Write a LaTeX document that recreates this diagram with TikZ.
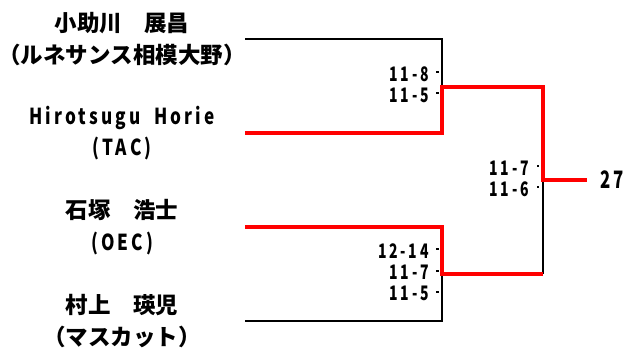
\documentclass[tikz,border=0pt]{standalone}
\usepackage{fontspec}
\setmainfont{Noto Sans CJK JP}
\newfontfamily\latinfont[FakeStretch=0.78, LetterSpace=14, WordSpace=2]{Noto Sans CJK JP}
\newfontfamily\scorefont[FakeStretch=0.7, LetterSpace=14]{Noto Sans CJK JP}
\usetikzlibrary{positioning}
\definecolor{winred}{RGB}{255,0,0}

\begin{document}
\begin{tikzpicture}[
    x=1pt, y=-1pt,
    player/.style={align=center, inner sep=0pt, font=\fontsize{22.5}{32}\selectfont\bfseries},
    latin/.style={font=\latinfont\bfseries\fontsize{22}{31}\selectfont},
    score/.style={anchor=east, inner sep=0pt, font=\scorefont\bfseries\fontsize{20}{20}\selectfont},
    tick/.style={fill=black, minimum size=2.2pt, inner sep=0pt},
    lose/.style={black, line width=1.4pt},
    win/.style={winred, line width=4pt}
]
\useasboundingbox (0,0) rectangle (627,349);

% Players
\node[player] (pa) at (122,39) {小助川　展昌\\（ルネサンス相模大野）};
\node[player, latin] (pb) at (122,133) {Hirotsugu Horie\\(TAC)};
\node[player] (pc) at (122,227) {石塚　浩士\\{\latinfont\fontsize{22}{31}\selectfont (OEC)}};
\node[player] (pd) at (122,321) {村上　瑛児\\（マスカット）};

% Line ends
\coordinate (a0) at (245,39);
\coordinate (b0) at (245,133);
\coordinate (c0) at (245,227);
\coordinate (d0) at (245,321);
\coordinate (sf1) at (442,87);
\coordinate (sf2) at (442,274);
\coordinate (fin) at (543,180);
\coordinate (champ) at (587,180);

% Losing paths
\draw[lose] (a0) -| (sf1);
\draw[lose] (d0) -| (sf2);
\draw[lose] (sf2 -| fin) -- (fin);

% Winning paths
\draw[win] (b0) -| (sf1) -| (fin) -- (champ);
\draw[win] (c0) -| (sf2) -- (sf2 -| fin);

% Result
\node[anchor=west, inner sep=0pt, font=\scorefont\bfseries\fontsize{24}{24}\selectfont] (total) at (600,180) {27};

% Game scores, semifinal 1
\node[score] (s11) at (429,74) {11-8};
\node[score] (s12) at (429,95) {11-5};
\node[tick] at (437.5,72) {};
\node[tick] at (437.5,93) {};

% Game scores, final
\node[score] (f1) at (529,168) {11-7};
\node[score] (f2) at (529,189) {11-6};
\node[tick] at (538,166) {};
\node[tick] at (538,187) {};

% Game scores, semifinal 2
\node[score] (s21) at (429,251) {12-14};
\node[score] (s22) at (429,272) {11-7};
\node[score] (s23) at (429,293) {11-5};
\node[tick] at (437.5,249) {};
\node[tick] at (437.5,271) {};
\node[tick] at (437.5,292) {};

\end{tikzpicture}
\end{document}
